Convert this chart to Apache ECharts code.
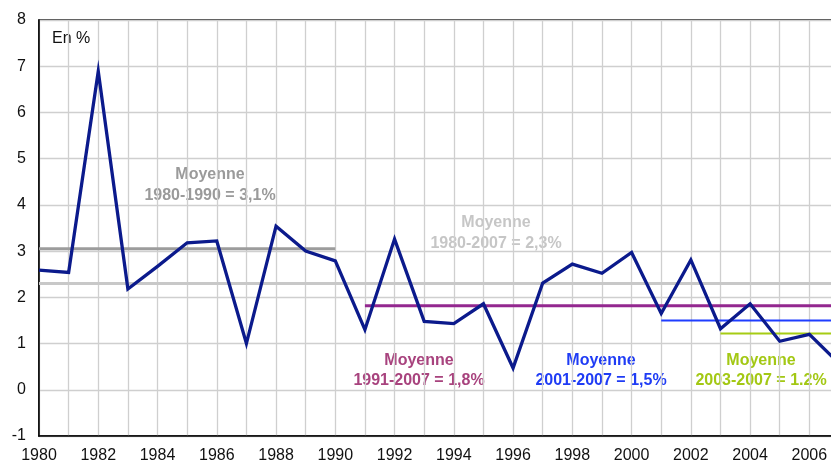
<!DOCTYPE html>
<html>
<head>
<meta charset="utf-8">
<script src="https://cdn.jsdelivr.net/npm/echarts@6/dist/echarts.min.js"></script>
<style>
html,body{margin:0;padding:0;background:#fff;overflow:hidden;width:831px;height:464px;}
#chart{width:850px;height:464px;}
</style>
</head>
<body>
<div id="chart"></div>
<script>
// ---- data ----
var years = [1980,1981,1982,1983,1984,1985,1986,1987,1988,1989,1990,1991,1992,1993,1994,1995,1996,1997,1998,1999,2000,2001,2002,2003,2004,2005,2006,2007];
var values = [2.59,2.54,6.89,2.18,2.67,3.18,3.22,1.00,3.54,3.00,2.79,1.30,3.26,1.48,1.43,1.86,0.47,2.31,2.72,2.52,2.97,1.65,2.81,1.32,1.86,1.05,1.20,0.57];
var avgNames = ['1980-1990','1980-2007','1991-2007','2001-2007','2003-2007'];
var avgStart = [1980,1980,1991,2001,2003];
var avgEnd = [1990,2007,2007,2007,2007];
var avgValue = [3.05,2.30,1.82,1.50,1.22];
var avgLabels = ['1980-1990 = 3,1%','1980-2007 = 2,3%','1991-2007 = 1,8%','2001-2007 = 1,5%','2003-2007 = 1.2%'];
var yTicks = [-1,0,1,2,3,4,5,6,7,8];

// ---- styles ----
var avgColors = ['#9c9c9c','#c8c8c8','#93278f','#1f3dff','#a6cc14'];
var avgWidths = [3,3,3,2,2];
var labelColors = ['#9a9a9a','#c6c6c6','#a8437e','#1f3cf5','#a3c814'];
var labelPos = [[210,175,196],[496,223,244],[419,361,381],[601,361,381],[761,361,381]];
var font = '"Liberation Sans", Arial, Helvetica, sans-serif';

var chart = echarts.init(document.getElementById('chart'), null, {renderer:'canvas'});

var series = [];
for (var i = 0; i < avgValue.length; i++) {
  series.push({
    name: avgNames[i],
    type: 'line',
    data: [[avgStart[i], avgValue[i]], [avgEnd[i], avgValue[i]]],
    showSymbol: false,
    silent: true,
    lineStyle: {color: avgColors[i], width: avgWidths[i]},
    z: 2
  });
}
series.push({
  name: 'main',
  type: 'line',
  data: years.map(function(y, k){ return [y, values[k]]; }),
  showSymbol: false,
  lineStyle: {color: '#0b1a8c', width: 3.3, join: 'miter'},
  z: 5
});

var graphics = [{
  type: 'text', left: 52, top: 31,
  style: {text: 'En %', font: '16px ' + font, fill: '#111'}
}];
for (var j = 0; j < avgLabels.length; j++) {
  graphics.push({
    type: 'text', x: labelPos[j][0], y: labelPos[j][1],
    style: {text: 'Moyenne', font: 'bold 16px ' + font, fill: labelColors[j], textAlign: 'center', textVerticalAlign: 'middle'}
  });
  graphics.push({
    type: 'text', x: labelPos[j][0], y: labelPos[j][2],
    style: {text: avgLabels[j], font: 'bold 16px ' + font, fill: labelColors[j], textAlign: 'center', textVerticalAlign: 'middle'}
  });
}

chart.setOption({
  animation: false,
  grid: {left: 39, right: 11, top: 20, bottom: 25, containLabel: false,
         show: true, borderColor: '#000', borderWidth: 1.5, backgroundColor: 'transparent'},
  xAxis: {
    type: 'value', min: years[0], max: years[years.length-1], interval: 1,
    axisLine: {show: true, onZero: false, lineStyle: {color: '#000', width: 1.5}},
    axisTick: {show: false},
    splitLine: {show: true, lineStyle: {color: '#cfcfcf', width: 1.3}},
    axisLabel: {
      color: '#111', fontFamily: font, fontSize: 16, margin: 12,
      formatter: function(v){ return (v % 2 === 0) ? String(v) : ''; }
    }
  },
  yAxis: {
    type: 'value', min: yTicks[0], max: yTicks[yTicks.length-1], interval: 1,
    axisLine: {show: true, onZero: false, lineStyle: {color: '#000', width: 1.5}},
    axisTick: {show: false},
    splitLine: {show: true, lineStyle: {color: '#cfcfcf', width: 1.3}},
    axisLabel: {color: '#111', fontFamily: font, fontSize: 16, margin: 13}
  },
  series: series,
  graphic: graphics
});
</script>
</body>
</html>
